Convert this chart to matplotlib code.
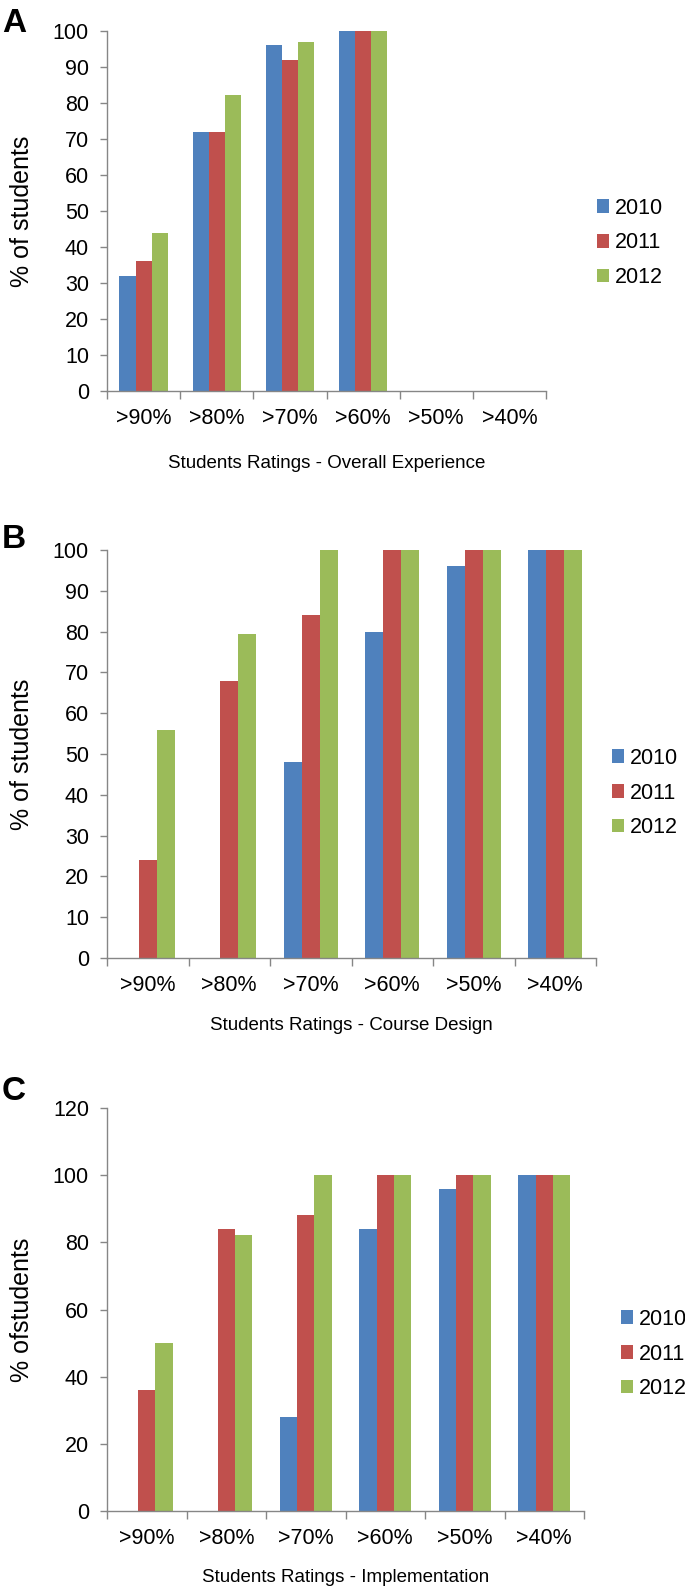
import numpy as np
import matplotlib
matplotlib.use("Agg")
import matplotlib.pyplot as plt

plt.rcParams['font.family'] = ['Liberation Sans', 'DejaVu Sans']

# data
categories = [">90%", ">80%", ">70%", ">60%", ">50%", ">40%"]
years = ["2010", "2011", "2012"]

overall_2010 = [32, 72, 96, 100, 0, 0]
overall_2011 = [36, 72, 92, 100, 0, 0]
overall_2012 = [44, 82.3, 97, 100, 0, 0]

design_2010 = [0, 0, 48, 80, 96, 100]
design_2011 = [24, 68, 84, 100, 100, 100]
design_2012 = [56, 79.5, 100, 100, 100, 100]

impl_2010 = [0, 0, 28, 84, 96, 100]
impl_2011 = [36, 84, 88, 100, 100, 100]
impl_2012 = [50, 82.3, 100, 100, 100, 100]

colors = ["#4F81BD", "#C0504D", "#9BBB59"]
axis_grey = "#868686"

W, H = 685, 1592
fig = plt.figure(figsize=(W / 100, H / 100), dpi=100)


def px_axes(left, right, top, bottom):
    return fig.add_axes([left / W, 1 - bottom / H, (right - left) / W, (bottom - top) / H])


def draw_panel(ax, series, ymax, ystep, letter, xlabel, ylabel, leg_x, leg_y, ypos, xlab_y):
    x = np.arange(len(categories)) + 0.5
    w = 0.22
    for i, (vals, yr) in enumerate(zip(series, years)):
        ax.bar(x + (i - 1) * w, vals, width=w, color=colors[i], label=yr, linewidth=0)
    ax.set_xlim(0, len(categories))
    ax.set_ylim(0, ymax)
    ax.set_yticks(np.arange(0, ymax + 1, ystep))
    ax.tick_params(axis='y', direction='out', length=5, width=1, color=axis_grey,
                   labelsize=15.5, pad=8)
    # category boundaries as ticks, labels at centres
    ax.set_xticks(np.arange(len(categories) + 1))
    ax.set_xticklabels([])
    ax.set_xticks(x, minor=True)
    ax.set_xticklabels(categories, minor=True)
    ax.tick_params(axis='x', which='major', direction='out', length=6, width=1, color=axis_grey)
    ax.tick_params(axis='x', which='minor', length=0, labelsize=15.5, pad=12)
    for s in ['top', 'right']:
        ax.spines[s].set_visible(False)
    for s in ['left', 'bottom']:
        ax.spines[s].set_color(axis_grey)
        ax.spines[s].set_linewidth(1)

    ax.legend(loc='center left', bbox_to_anchor=(leg_x / W, 1 - leg_y / H),
              bbox_transform=fig.transFigure, frameon=False, fontsize=15.5,
              handlelength=0.57, handleheight=0.57, handletextpad=0.25,
              borderpad=0, borderaxespad=0, labelspacing=0.64)

    fig.text(2 / W, 1 - ypos / H, letter, fontsize=24, fontweight='bold', va='center', ha='left')
    bb = ax.get_position()
    fig.text(22 / W, (bb.y0 + bb.y1) / 2, ylabel, rotation=90, fontsize=18,
             va='center', ha='center')
    fig.text((bb.x0 + bb.x1) / 2, 1 - xlab_y / H, xlabel, fontsize=13.5,
             va='center', ha='center')


axA = px_axes(107, 546, 31, 391)
draw_panel(axA, [overall_2010, overall_2011, overall_2012], 100, 10, "A",
           "Students Ratings - Overall Experience", "% of students", 597, 243, 24, 463)

axB = px_axes(107, 596, 550, 958)
draw_panel(axB, [design_2010, design_2011, design_2012], 100, 10, "B",
           "Students Ratings - Course Design", "% of students", 612, 793, 539, 1026)

axC = px_axes(107, 584, 1108, 1511)
draw_panel(axC, [impl_2010, impl_2011, impl_2012], 120, 20, "C",
           "Students Ratings - Implementation", "% ofstudents", 621, 1354, 1092, 1578)

fig.savefig("out.png", dpi=100)
